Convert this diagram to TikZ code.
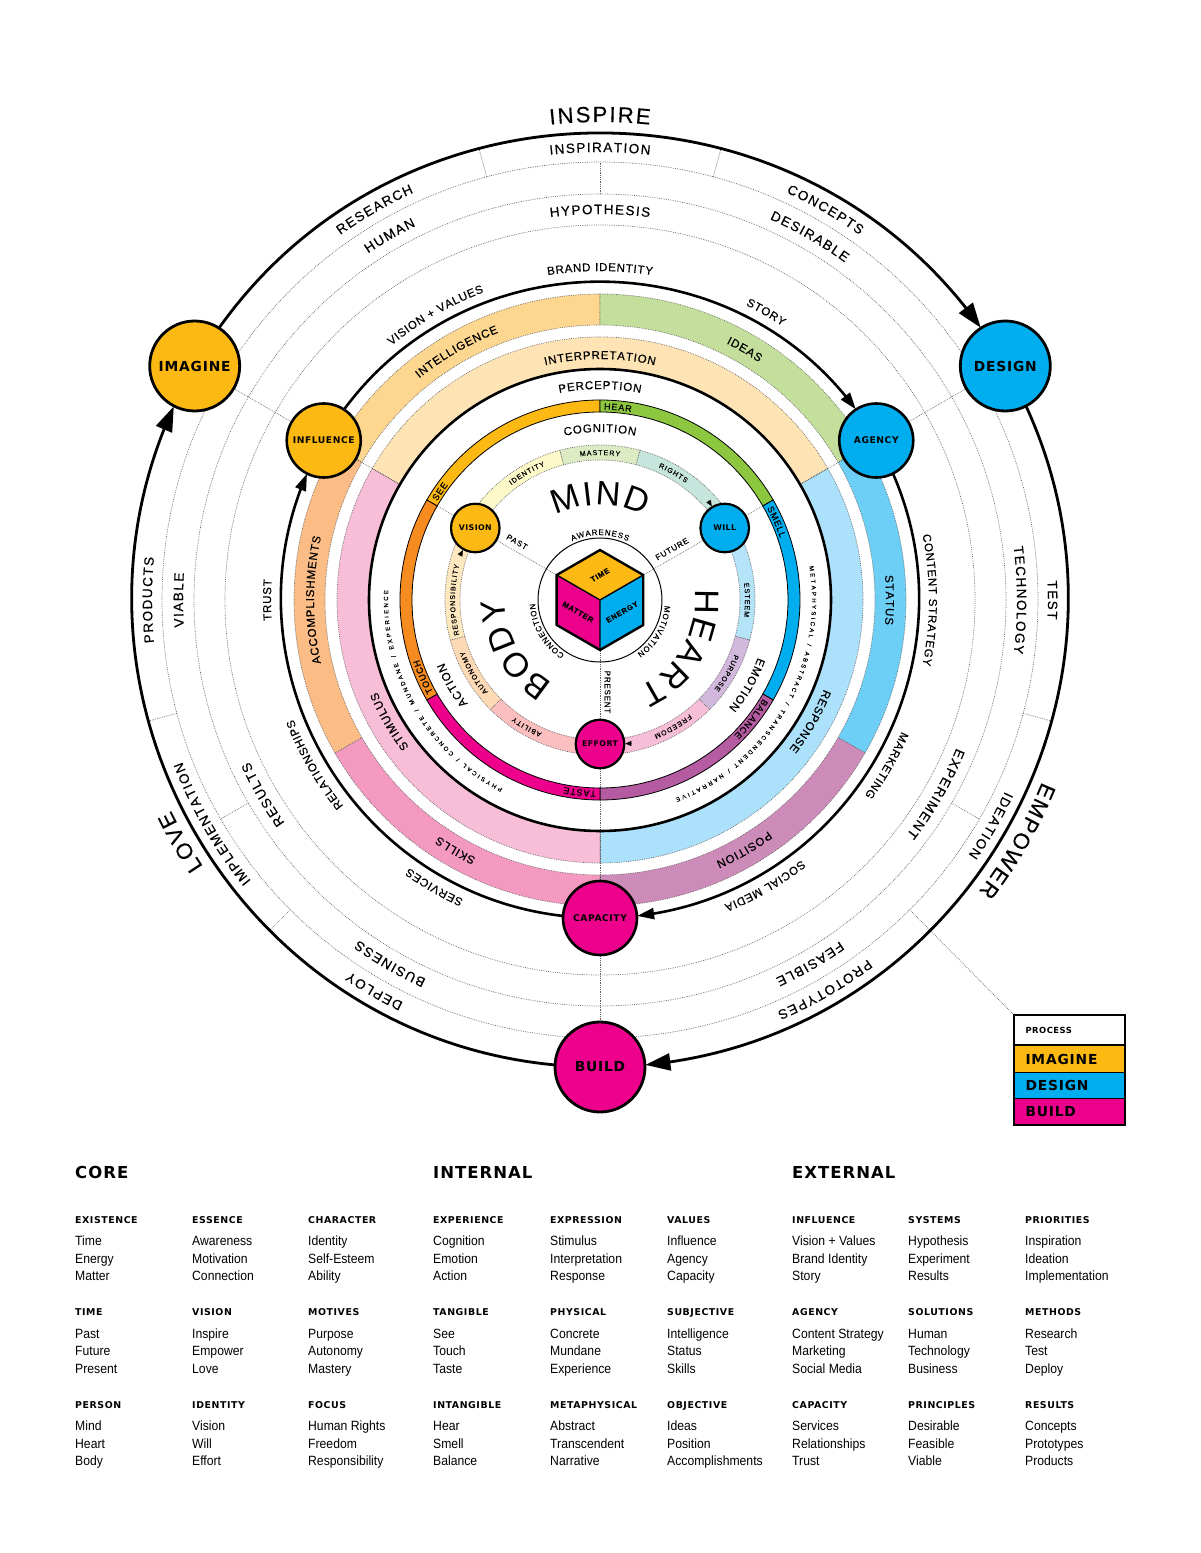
\documentclass[tikz,border=0pt]{standalone}
\usepackage{fontspec}
\usepackage{xparse}
\usetikzlibrary{arrows.meta,bending}
\setmainfont{Liberation Sans}
\newfontfamily\grot[FakeBold=0.35]{Liberation Sans}
\newfontfamily\grotL{Liberation Sans}
\newfontfamily\grotS[LetterSpace=10,FakeBold=0.35]{Liberation Sans}
\newfontfamily\widef[LetterSpace=6]{DejaVu Sans}
\newfontfamily\bodyf[FakeStretch=0.91]{Liberation Sans}
\newcommand\rg[1]{\grot\fontsize{#1}{#1}\selectfont}
\newcommand\bd[1]{\widef\bfseries\fontsize{#1}{#1}\selectfont}
\definecolor{cyel}{HTML}{FDB913}
\definecolor{cblu}{HTML}{00AEEF}
\definecolor{cmag}{HTML}{EC008C}
\definecolor{cgrn}{HTML}{8DC63F}
\definecolor{corg}{HTML}{F68B1F}
\definecolor{cpur}{HTML}{B55BA2}
\definecolor{cOrA}{HTML}{FDD68F}
\definecolor{cGrA}{HTML}{C4DF9B}
\definecolor{cBlA}{HTML}{6DCFF6}
\definecolor{cPuA}{HTML}{CD8BBA}
\definecolor{cPiA}{HTML}{F49AC1}
\definecolor{cPeA}{HTML}{FBBC85}
\definecolor{cOrB}{HTML}{FEE3B5}
\definecolor{cBlB}{HTML}{ABE1FA}
\definecolor{cPiB}{HTML}{F8BDD7}
\definecolor{cT1}{HTML}{FEF9C9}
\definecolor{cT2}{HTML}{DCEBC3}
\definecolor{cT3}{HTML}{C6E6DD}
\definecolor{cT4}{HTML}{B5E3F7}
\definecolor{cT5}{HTML}{D2B8DC}
\definecolor{cT6}{HTML}{F7BED8}
\definecolor{cT7}{HTML}{FBBFBF}
\definecolor{cT8}{HTML}{FED9B5}
\definecolor{cT9}{HTML}{FDE8BF}
\pgfdeclarelayer{bg}
\pgfsetlayers{bg,main}
\ExplSyntaxOn
\box_new:N \l_rt_box
\dim_new:N \l_rt_pos_dim
\fp_new:N \l_rt_a_fp
\fp_new:N \l_rt_s_fp
\cs_new_protected:Npn \rt_width:nnn #1#2#3
 {
  \dim_zero:N \l_rt_pos_dim
  \str_map_inline:nn {#3}
   {
    \hbox_set:Nn \l_rt_box { \pgfinterruptpicture #1 ##1 \endpgfinterruptpicture }
    \dim_add:Nn \l_rt_pos_dim { \box_wd:N \l_rt_box + #2 pt }
   }
  \dim_sub:Nn \l_rt_pos_dim { #2 pt }
 }
\cs_new_protected:Npn \rt_place:nnnnn #1#2#3#4#5
 {
  \dim_zero:N \l_rt_pos_dim
  \str_map_inline:nn {#5}
   {
    \hbox_set:Nn \l_rt_box { \pgfinterruptpicture #1 ##1 \endpgfinterruptpicture }
    \fp_set:Nn \l_rt_a_fp
      { round( (#3) - ( \dim_to_fp:n { \l_rt_pos_dim + \box_wd:N \l_rt_box / 2 } ) / (#2) * 180 / pi , 3) }
    \pgftext[at={\pgfpointpolar{\fp_eval:n{\l_rt_a_fp}}{#2pt}},base,rotate=\fp_eval:n{\l_rt_a_fp - 90}]{ #1 ##1 }
    \dim_add:Nn \l_rt_pos_dim { \box_wd:N \l_rt_box + #4 pt }
   }
 }
\NewDocumentCommand \ringtext { m m m m m }
 {
  \rt_width:nnn {#1}{#4}{#5}
  \fp_set:Nn \l_rt_s_fp { (#3) + ( \dim_to_fp:n { \l_rt_pos_dim } ) / (2*(#2)) * 180 / pi }
  \rt_place:nnnnn {#1}{#2}{ \fp_use:N \l_rt_s_fp }{#4}{#5}
 }
\NewDocumentCommand \ringstart { m m m m m }
 {
  \rt_place:nnnnn {#1}{#2}{#3}{#4}{#5}
 }
\ExplSyntaxOff
\newcommand\fbig{\rg{22}}
\newcommand\flab{\rg{13.5}}
\newcommand\fmid{\rg{11.5}}
\newcommand\fsm{\rg{7}}
\newcommand\fring{\rg{9}}
\newcommand\ftiny{\rg{6}}
\newcommand\fmind{\grotL\fontsize{34}{34}\selectfont}
\newcommand\fcore{\rg{8}}
% band: r1 r2 a1 a2 colour
\newcommand\band[5]{\path[dots,fill=#5] (#3:#2) arc[start angle=#3,end angle=#4,radius=#2] -- (#4:#1) arc[start angle=#4,end angle=#3,radius=#1] -- cycle;}
\newcommand\ringseg[3]{\path[fill=#3,draw=black,line width=0.8] (#1:200) arc[start angle=#1,end angle=#2,radius=200] -- (#2:188) arc[start angle=#2,end angle=#1,radius=188] -- cycle;}
\newcount\nn
\newcommand\tcol[6]{%
  \global\advance\nn by 1
  \node[thead] (th\the\nn) at (#1-600,600-#2) {#3};
  \node[tbody] (ta\the\nn) at (#1-600,600-#2-22.5) {#4};
  \node[tbody] (tb\the\nn) at (#1-600,600-#2-40) {#5};
  \node[tbody] (tc\the\nn) at (#1-600,600-#2-57.5) {#6};
}
\tikzset{
  x=1pt,y=1pt,
  dots/.style={draw=black!62,line width=0.7,dash pattern=on 0.7pt off 1.1pt},
  hubL/.style={circle,draw=black,line width=2.8,minimum size=90,inner sep=0,font=\bd{13.8},text=black},
  hubM/.style={circle,draw=black,line width=2.6,minimum size=74,inner sep=0,font=\bd{9.2},text=black},
  hubS/.style={circle,draw=black,line width=2.2,minimum size=48.5,inner sep=0,font=\bd{7.8},text=black},
  flowL/.style={line width=2.8,-{Triangle[length=25,width=17]}},
  flowM/.style={line width=2.6,-{Triangle[length=17,width=11]}},
  tipS/.style={line width=0.4,-{Triangle[length=6,width=5]}},
  thead/.style={anchor=base west,inner sep=0,font=\widef\bfseries\fontsize{9.4}{9.4}\selectfont},
  tbody/.style={anchor=base west,inner sep=0,font=\bodyf\fontsize{13.4}{13.4}\selectfont},
  ttitle/.style={anchor=base west,inner sep=0,font=\widef\bfseries\fontsize{16.5}{16.5}\selectfont},
  spoke/.style={inner sep=0,font=\grotS\fontsize{8}{8}\selectfont},
  cubetxt/.style={inner sep=0,font=\grotS\bfseries\fontsize{7.5}{7.5}\selectfont},
  legrow/.style={anchor=north west,minimum width=111,inner sep=0,text width=89,align=left,font=\bd{13.8},draw=black,line width=1},
}
\begin{document}
\begin{tikzpicture}
\useasboundingbox (-600,-953) rectangle (600,600);
% ---------- nodes (main layer)
\node[hubL,fill=cyel] (imagine) at (150:468) {IMAGINE};
\node[hubL,fill=cblu] (design) at (30:468) {DESIGN};
\node[hubL,fill=cmag] (build) at (-90:467) {BUILD};
\node[hubM,fill=cyel] (influence) at (150:319) {INFLUENCE};
\node[hubM,fill=cblu] (agency) at (30:319) {AGENCY};
\node[hubM,fill=cmag] (capacity) at (-90:318) {CAPACITY};
\node[hubS,fill=cyel] (vision) at (150:144) {VISION};
\node[hubS,fill=cblu] (will) at (30:144) {WILL};
\node[hubS,fill=cmag] (effort) at (-90:144) {EFFORT};
% legend
\node[legrow,fill=white,minimum height=30,font=\bd{8.4}] (lp) at (414,-415) {PROCESS};
\node[legrow,fill=cyel,minimum height=27] (li) at (414,-445) {IMAGINE};
\node[legrow,fill=cblu,minimum height=26] (ld) at (414,-472) {DESIGN};
\node[legrow,fill=cmag,minimum height=27] (lb) at (414,-498) {BUILD};
\draw[line width=2.6] (414,-415) rectangle (525,-525);
\draw[line width=2.2] (414,-445) -- (525,-445);
% ---------- background layer
\begin{pgfonlayer}{bg}
\fill[white] (-600,-953) rectangle (600,600);
% dotted circles
\foreach \r in {438,406,375} \draw[dots] (0,0) circle[radius=\r];
% outer bands
\band{275}{306}{150}{90}{cOrA}
\band{275}{306}{90}{30}{cGrA}
\band{275}{306}{30}{-30}{cBlA}
\band{275}{306}{-30}{-90}{cPuA}
\band{275}{306}{-90}{-150}{cPiA}
\band{275}{306}{-150}{-210}{cPeA}
% middle bands
\band{231}{263}{150}{30}{cOrB}
\band{231}{263}{30}{-90}{cBlB}
\band{231}{263}{-90}{-210}{cPiB}
% inner thin bands
\band{140}{155}{150}{105}{cT1}
\band{140}{155}{105}{75}{cT2}
\band{140}{155}{75}{30}{cT3}
\band{140}{155}{30}{-15}{cT4}
\band{140}{155}{-15}{-45}{cT5}
\band{140}{155}{-45}{-90}{cT6}
\band{140}{155}{-90}{-135}{cT7}
\band{140}{155}{-135}{-165}{cT8}
\band{140}{155}{-165}{-210}{cT9}
% radial ticks
\foreach \a in {105,75,-15,-135,-165} \draw[dots] (\a:438) -- (\a:468);
\foreach \a in {90,-30,-150} \draw[dots] (\a:406) -- (\a:438);
\coordinate (legstart) at (-45:438);
\draw[dots] (legstart) -- (lp.north west);
% spokes
\draw[dots] (imagine) -- (influence);
\draw[dots] (design) -- (agency);
\draw[dots] (capacity) -- (build);
\coordinate (iEnd) at (150:232); \coordinate (aEnd) at (30:232);
\draw[dots] (influence) -- (iEnd);
\draw[dots] (agency) -- (aEnd);
\coordinate (cubeTL) at (150:50); \coordinate (cubeTR) at (30:50); \coordinate (cubeB) at (-90:50);
\coordinate (ringTL) at (150:188); \coordinate (ringTR) at (30:188); \coordinate (ringB) at (-90:188); \coordinate (ringBo) at (-90:200);
\draw[dots] (vision) -- (cubeTL);
\draw[dots] (will) -- (cubeTR);
\draw[dots] (effort) -- (cubeB);
\draw[dots] (vision) -- (ringTL);
\draw[dots] (will) -- (ringTR);
\draw[dots] (effort) -- (ringB);
\draw[dots] (ringBo) -- (capacity);
% flows
\draw[flowL,shorten >=46] (imagine.center) to[out=60,in=120,looseness=1.135] (design.center);
\draw[flowL,shorten >=46] (design.center) to[out=-60,in=0,looseness=1.135] (build.center);
\draw[flowL,shorten >=46] (build.center) to[out=180,in=240,looseness=1.135] (imagine.center);
\draw[flowM,shorten >=38] (influence.center) to[out=60,in=120,looseness=1.135] (agency.center);
\draw[flowM,shorten >=38] (agency.center) to[out=-60,in=0,looseness=1.135] (capacity.center);
\draw[flowM,shorten >=38] (capacity.center) to[out=180,in=240,looseness=1.135] (influence.center);
\draw[line width=2.6] (0,0) circle[radius=231];
% colour ring
\ringseg{150}{90}{cyel}
\ringseg{90}{30}{cgrn}
\ringseg{30}{-30}{cblu}
\ringseg{-30}{-90}{cpur}
\ringseg{-90}{-150}{cmag}
\ringseg{-150}{-210}{corg}
% arrow tips of inner ring
\coordinate (tipW) at (42.5:147); \coordinate (tipE) at (-77.5:147); \coordinate (tipV) at (-197.5:147);
\draw[tipS] (tipW) -- (will);
\draw[tipS] (tipE) -- (effort);
\draw[tipS] (tipV) -- (vision);
% core
\draw[line width=1] (0,0) circle[radius=62];
\path[fill=cyel] (0,50) -- (43.3,25) -- (0,0) -- (-43.3,25) -- cycle;
\path[fill=cmag] (-43.3,25) -- (0,0) -- (0,-50) -- (-43.3,-25) -- cycle;
\path[fill=cblu] (43.3,25) -- (0,0) -- (0,-50) -- (43.3,-25) -- cycle;
\draw[line width=2.4,line join=miter] (0,50) -- (43.3,25) -- (43.3,-25) -- (0,-50) -- (-43.3,-25) -- (-43.3,25) -- cycle;
\draw[line width=1.4] (-43.3,25) -- (0,0) -- (43.3,25) (0,0) -- (0,-50);
\node[cubetxt,rotate=30] (tTime) at (0,25) {TIME};
\node[cubetxt,rotate=-30] (tMatter) at (-22,-12) {MATTER};
\node[cubetxt,rotate=30] (tEnergy) at (22,-12) {ENERGY};
\node[spoke,rotate=-30] (tPast) at (-83,58) {PAST};
\node[spoke,rotate=30] (tFuture) at (72,51) {FUTURE};
\node[spoke,rotate=-90] (tPresent) at (7.5,-92) {PRESENT};
% ---------- curved text
\ringtext{\fbig}{478}{90}{2}{INSPIRE}
\ringtext{\fbig}{478}{-30}{1.9}{EMPOWER}
\ringtext{\fbig}{478}{-150}{2}{LOVE}
\ringtext{\flab}{448}{90}{1.4}{INSPIRATION}
\ringtext{\flab}{448}{120}{1.4}{RESEARCH}
\ringtext{\flab}{448}{60}{1.4}{CONCEPTS}
\ringtext{\flab}{448}{0}{1.4}{TEST}
\ringtext{\flab}{448}{-30}{1.4}{IDEATION}
\ringtext{\flab}{448}{-60}{1.4}{PROTOTYPES}
\ringtext{\flab}{448}{-120}{1.4}{DEPLOY}
\ringtext{\flab}{448}{-150}{1.4}{IMPLEMENTATION}
\ringtext{\flab}{448}{180}{1.4}{PRODUCTS}
\ringtext{\flab}{417}{120}{1.4}{HUMAN}
\ringtext{\flab}{417}{60}{1.4}{DESIRABLE}
\ringtext{\flab}{417}{0}{1.4}{TECHNOLOGY}
\ringtext{\flab}{417}{-60}{1.4}{FEASIBLE}
\ringtext{\flab}{417}{-120}{1.4}{BUSINESS}
\ringtext{\flab}{417}{180}{1.4}{VIABLE}
\ringtext{\flab}{386}{90}{1.4}{HYPOTHESIS}
\ringtext{\flab}{386}{-30}{1.4}{EXPERIMENT}
\ringtext{\flab}{386}{-150}{1.4}{RESULTS}
\ringtext{\fmid}{329}{90}{0.7}{BRAND IDENTITY}
\ringtext{\fmid}{329}{120}{0.7}{VISION + VALUES}
\ringtext{\fmid}{329}{60}{0.7}{STORY}
\ringtext{\fmid}{329}{0}{0.7}{CONTENT STRATEGY}
\ringtext{\fmid}{329}{-30}{0.7}{MARKETING}
\ringtext{\fmid}{329}{-60}{0.7}{SOCIAL MEDIA}
\ringtext{\fmid}{329}{-120}{0.7}{SERVICES}
\ringtext{\fmid}{329}{-150}{0.7}{RELATIONSHIPS}
\ringtext{\fmid}{329}{180}{0.7}{TRUST}
\ringtext{\fmid}{286}{120}{0.8}{INTELLIGENCE}
\ringtext{\fmid}{286}{60}{0.8}{IDEAS}
\ringtext{\fmid}{286}{0}{0.8}{STATUS}
\ringtext{\fmid}{286}{-60}{0.8}{POSITION}
\ringtext{\fmid}{286}{-120}{0.8}{SKILLS}
\ringtext{\fmid}{286}{180}{0.8}{ACCOMPLISHMENTS}
\ringtext{\fmid}{241}{90}{0.8}{INTERPRETATION}
\ringtext{\fmid}{241}{-30}{0.8}{RESPONSE}
\ringtext{\fmid}{241}{-150}{0.8}{STIMULUS}
\ringtext{\fmid}{211}{90}{0.8}{PERCEPTION}
\ringtext{\ftiny}{212}{-30}{2.3}{METAPHYSICAL / ABSTRACT / TRANSCENDENT / NARRATIVE}
\ringtext{\ftiny}{212}{-150}{2.3}{PHYSICAL / CONCRETE / MUNDANE / EXPERIENCE}
\ringstart{\fring}{190.5}{88.8}{0.8}{HEAR}
\ringstart{\fring}{190.5}{28.8}{0.8}{SMELL}
\ringstart{\fring}{190.5}{-31.2}{0.8}{BALANCE}
\ringstart{\fring}{190.5}{-91.2}{0.8}{TASTE}
\ringstart{\fring}{190.5}{-151.2}{0.8}{TOUCH}
\ringstart{\fring}{190.5}{148.8}{0.8}{SEE}
\ringtext{\fmid}{168}{90}{0.8}{COGNITION}
\ringtext{\fmid}{168}{-30}{0.8}{EMOTION}
\ringtext{\fmid}{168}{-150}{0.8}{ACTION}
\ringtext{\fsm}{145}{120}{1}{IDENTITY}
\ringtext{\fsm}{145}{90}{1}{MASTERY}
\ringtext{\fsm}{145}{60}{1}{RIGHTS}
\ringtext{\fsm}{145}{0}{1}{ESTEEM}
\ringtext{\fsm}{145}{-30}{1}{PURPOSE}
\ringtext{\fsm}{145}{-60}{1}{FREEDOM}
\ringtext{\fsm}{145}{-120}{1}{ABILITY}
\ringtext{\fsm}{145}{-150}{1}{AUTONOMY}
\ringtext{\fsm}{145}{180}{1}{RESPONSIBILITY}
\ringtext{\fmind}{95}{90}{1.5}{MIND}
\ringtext{\fmind}{95}{-30}{1.5}{HEART}
\ringtext{\fmind}{95}{-150}{1.5}{BODY}
\ringtext{\fcore}{65}{90}{0.8}{AWARENESS}
\ringtext{\fcore}{65}{-30}{0.8}{MOTIVATION}
\ringtext{\fcore}{65}{-150}{0.8}{CONNECTION}
\end{pgfonlayer}
% ---------- tables
\node[ttitle] (core) at (75-600,600-1178) {CORE};
\node[ttitle] (internal) at (433-600,600-1178) {INTERNAL};
\node[ttitle] (external) at (792-600,600-1178) {EXTERNAL};
\tcol{75}{1223}{EXISTENCE}{Time}{Energy}{Matter}
\tcol{192}{1223}{ESSENCE}{Awareness}{Motivation}{Connection}
\tcol{308}{1223}{CHARACTER}{Identity}{Self-Esteem}{Ability}
\tcol{433}{1223}{EXPERIENCE}{Cognition}{Emotion}{Action}
\tcol{550}{1223}{EXPRESSION}{Stimulus}{Interpretation}{Response}
\tcol{667}{1223}{VALUES}{Influence}{Agency}{Capacity}
\tcol{792}{1223}{INFLUENCE}{Vision + Values}{Brand Identity}{Story}
\tcol{908}{1223}{SYSTEMS}{Hypothesis}{Experiment}{Results}
\tcol{1025}{1223}{PRIORITIES}{Inspiration}{Ideation}{Implementation}
\tcol{75}{1315.5}{TIME}{Past}{Future}{Present}
\tcol{192}{1315.5}{VISION}{Inspire}{Empower}{Love}
\tcol{308}{1315.5}{MOTIVES}{Purpose}{Autonomy}{Mastery}
\tcol{433}{1315.5}{TANGIBLE}{See}{Touch}{Taste}
\tcol{550}{1315.5}{PHYSICAL}{Concrete}{Mundane}{Experience}
\tcol{667}{1315.5}{SUBJECTIVE}{Intelligence}{Status}{Skills}
\tcol{792}{1315.5}{AGENCY}{Content Strategy}{Marketing}{Social Media}
\tcol{908}{1315.5}{SOLUTIONS}{Human}{Technology}{Business}
\tcol{1025}{1315.5}{METHODS}{Research}{Test}{Deploy}
\tcol{75}{1408}{PERSON}{Mind}{Heart}{Body}
\tcol{192}{1408}{IDENTITY}{Vision}{Will}{Effort}
\tcol{308}{1408}{FOCUS}{Human Rights}{Freedom}{Responsibility}
\tcol{433}{1408}{INTANGIBLE}{Hear}{Smell}{Balance}
\tcol{550}{1408}{METAPHYSICAL}{Abstract}{Transcendent}{Narrative}
\tcol{667}{1408}{OBJECTIVE}{Ideas}{Position}{Accomplishments}
\tcol{792}{1408}{CAPACITY}{Services}{Relationships}{Trust}
\tcol{908}{1408}{PRINCIPLES}{Desirable}{Feasible}{Viable}
\tcol{1025}{1408}{RESULTS}{Concepts}{Prototypes}{Products}
\end{tikzpicture}
\end{document}
